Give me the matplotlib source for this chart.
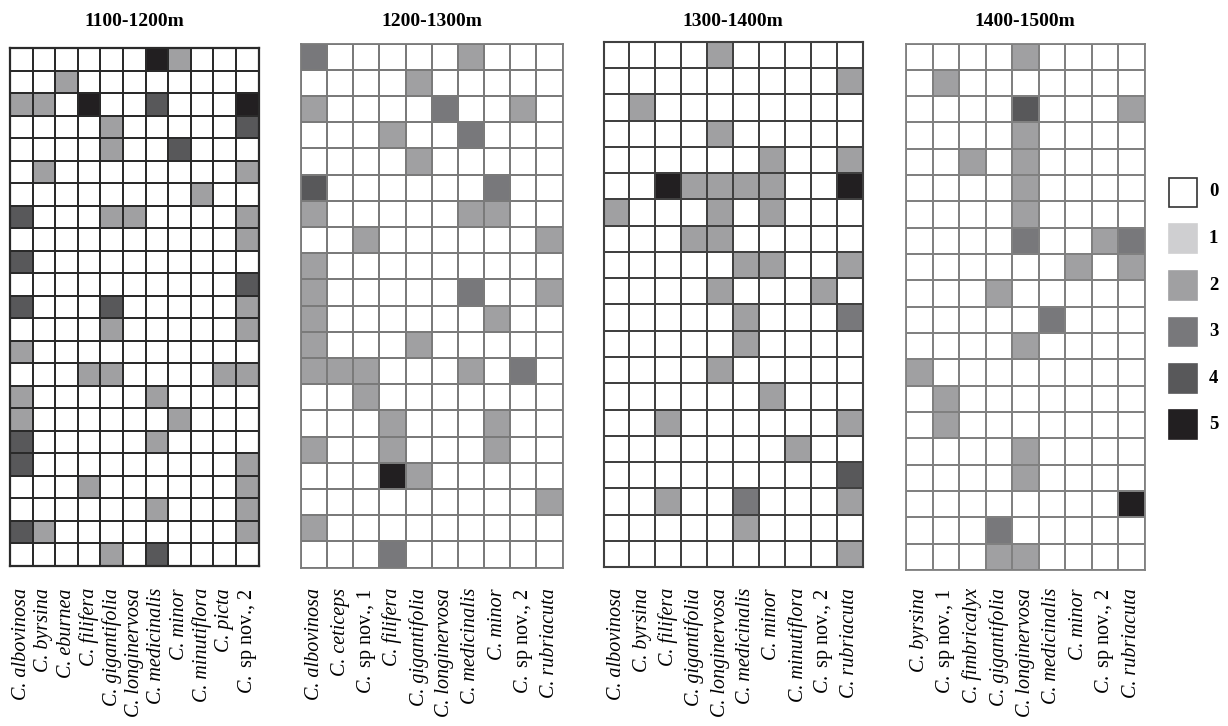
import numpy as np
import matplotlib
matplotlib.use('Agg')
import matplotlib.pyplot as plt
from matplotlib.colors import ListedColormap, BoundaryNorm
from matplotlib.patches import Rectangle

plt.rcParams['font.family'] = 'Liberation Serif'
plt.rcParams['mathtext.fontset'] = 'custom'
plt.rcParams['mathtext.rm'] = 'Liberation Serif'
plt.rcParams['mathtext.it'] = 'Liberation Serif:italic'

# 고도별 출현 빈도 (0-5)
titles = ['1100-1200m', '1200-1300m', '1300-1400m', '1400-1500m']

species_1 = ['albovinosa', 'byrsina', 'eburnea', 'filifera', 'gigantifolia', 'longinervosa',
             'medicinalis', 'minor', 'minutiflora', 'picta', 'sp nov., 2']
species_2 = ['albovinosa', 'ceticeps', 'sp nov., 1', 'filifera', 'gigantifolia', 'longinervosa',
             'medicinalis', 'minor', 'sp nov., 2', 'rubriacuta']
species_3 = ['albovinosa', 'byrsina', 'filifera', 'gigantifolia', 'longinervosa', 'medicinalis',
             'minor', 'minutiflora', 'sp nov., 2', 'rubriacuta']
species_4 = ['byrsina', 'sp nov., 1', 'fimbricalyx', 'gigantifolia', 'longinervosa',
             'medicinalis', 'minor', 'sp nov., 2', 'rubriacuta']

rows_1 = ['00000052000', '00200000000', '22050040005', '00002000004', '00002004000',
          '02000000002', '00000000200', '40002200002', '00000000002', '40000000000',
          '00000000004', '40004000002', '00002000002', '20000000000', '00022000022',
          '20000020000', '20000002000', '40000020000', '40000000002', '00020000002',
          '00000020002', '42000000002', '00002040000']
rows_2 = ['3000002000', '0000200000', '2000030020', '0002003000', '0000200000',
          '4000000300', '2000002200', '0020000002', '2000000000', '2000003002',
          '2000000200', '2000200000', '2220002030', '0020000000', '0002000200',
          '2002000200', '0005200000', '0000000002', '2000000000', '0003000000']
rows_3 = ['0000200000', '0000000002', '0200000000', '0000200000', '0000002002',
          '0052222005', '2000202000', '0002200000', '0000022002', '0000200020',
          '0000020003', '0000020000', '0000200000', '0000002000', '0020000002',
          '0000000200', '0000000004', '0020030002', '0000020000', '0000000002']
rows_4 = ['000020000', '020000000', '000040002', '000020000', '002020000',
          '000020000', '000020000', '000030023', '000000202', '000200000',
          '000003000', '000020000', '200000000', '020000000', '020000000',
          '000020000', '000020000', '000000005', '000300000', '000220000']

levels = ['0', '1', '2', '3', '4', '5']
colors = ['#ffffff', '#cfcfd1', '#a0a0a2', '#78787b', '#58585a', '#221f21']

W, H = 1228, 726
fig = plt.figure(figsize=(W / 100, H / 100), dpi=100)

# 패널 위치 (픽셀, 위에서부터)
boxes = [(10, 48, 258.5, 566), (301, 43.5, 562.5, 567.5),
         (603.5, 42, 862.5, 567), (906, 43.5, 1144.5, 570)]
line_cols = ['#2a2a2a', '#7a7a7a', '#404040', '#808080']
line_w = [1.4, 1.1, 1.3, 1.1]

cmap = ListedColormap(colors)
norm = BoundaryNorm(np.arange(-0.5, 6.5, 1), cmap.N)

panels = [(rows_1, species_1), (rows_2, species_2), (rows_3, species_3), (rows_4, species_4)]
for i, (rows, species) in enumerate(panels):
    data = np.array([[int(c) for c in r] for r in rows])
    x0, y0, x1, y1 = boxes[i]
    ax = fig.add_axes([x0 / W, 1 - y1 / H, (x1 - x0) / W, (y1 - y0) / H])
    nr, nc = data.shape
    ax.pcolormesh(np.arange(nc + 1), np.arange(nr + 1), data, cmap=cmap, norm=norm,
                  edgecolors=line_cols[i], linewidth=line_w[i])
    ax.set_xlim(0, nc)
    ax.set_ylim(nr, 0)
    for s in ax.spines.values():
        s.set_color(line_cols[i])
        s.set_linewidth(line_w[i] + 0.2)
    labels = []
    for sp in species:
        if sp.startswith('sp'):
            labels.append(r'$\mathit{C.}$ ' + sp)
        else:
            labels.append('C. ' + sp)
    ax.set_xticks(np.arange(nc) + 0.5)
    ax.set_xticklabels(labels, rotation=90, fontsize=14.5)
    for lab, sp in zip(ax.get_xticklabels(), species):
        if not sp.startswith('sp'):
            lab.set_fontstyle('italic')
    ax.tick_params(axis='x', length=0, pad=(588 - y1) * 0.72)
    ax.set_yticks([])
    fig.text((x0 + x1) / 2 / W, 1 - 21 / H, titles[i], ha='center', va='center',
             fontsize=14, fontweight='bold')

# 범례
for k, (lv, c) in enumerate(zip(levels, colors)):
    top = 178 + k * 46.5
    ec = '#333333' if k == 0 else c
    fig.patches.append(Rectangle((1168.5 / W, 1 - (top + 28.5) / H), 28.5 / W, 28.5 / H,
                                 transform=fig.transFigure, facecolor=c, edgecolor=ec,
                                 linewidth=1.2))
    fig.text(1209 / W, 1 - (top + 14) / H, lv, ha='left', va='center',
             fontsize=13.5, fontweight='bold')

fig.savefig('out.png', dpi=100)
